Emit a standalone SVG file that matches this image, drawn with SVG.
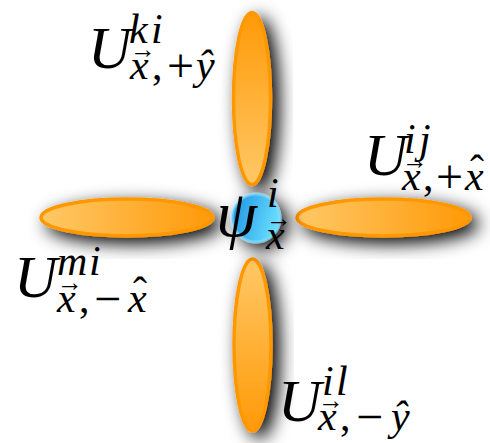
<svg xmlns="http://www.w3.org/2000/svg" width="490" height="443" viewBox="0 0 490 443">
<defs>
<style>
text{font-family:"Liberation Serif","DejaVu Serif",serif;font-style:italic;fill:#000}
.b{font-size:60px}
.s{font-size:42px}
.u{font-style:normal}
.ac{font-style:normal;font-size:26px}
.op{font-style:normal;font-size:48px}
.lobe{stroke:#FF9800;stroke-width:3.5}
</style>
<filter id="sh" x="-60%" y="-60%" width="220%" height="220%">
<feGaussianBlur in="SourceAlpha" stdDeviation="9"/>
<feOffset dx="7" dy="6"/>
<feComponentTransfer><feFuncA type="linear" slope="1"/></feComponentTransfer>
<feMerge><feMergeNode/><feMergeNode in="SourceGraphic"/></feMerge>
</filter>
<linearGradient id="gh" x1="0" y1="0" x2="1" y2="0">
<stop offset="0" stop-color="#FFC866"/><stop offset="1" stop-color="#FF9A08"/>
</linearGradient>
<linearGradient id="gt" x1="0" y1="0" x2="0" y2="1">
<stop offset="0" stop-color="#FF9A08"/><stop offset="1" stop-color="#FFC866"/>
</linearGradient>
<linearGradient id="gb" x1="0" y1="0" x2="0" y2="1">
<stop offset="0" stop-color="#FFC866"/><stop offset="1" stop-color="#FF9A08"/>
</linearGradient>
<linearGradient id="gc" x1="0" y1="0" x2="1" y2="0.3">
<stop offset="0" stop-color="#1A8FE0"/><stop offset="1" stop-color="#66DCFF"/>
</linearGradient>
</defs>
<rect width="490" height="443" fill="#fff"/>
<g id="connectors"/>
<g id="lobe-top"><ellipse class="lobe" cx="252" cy="98.5" rx="18.5" ry="86" fill="url(#gt)" filter="url(#sh)"/></g>
<g id="lobe-bottom"><ellipse class="lobe" cx="252.5" cy="345" rx="18.5" ry="86" fill="url(#gb)" filter="url(#sh)"/></g>
<g id="lobe-left"><ellipse class="lobe" cx="127" cy="217.5" rx="86" ry="18.5" fill="url(#gh)" filter="url(#sh)"/></g>
<g id="lobe-right"><ellipse class="lobe" cx="383.5" cy="217.5" rx="86.5" ry="18.5" fill="url(#gh)" filter="url(#sh)"/></g>
<g id="site"><circle cx="256" cy="218" r="24" fill="url(#gc)" stroke="#8EE0FF" stroke-opacity="0.6" stroke-width="3" filter="url(#sh)"/></g>

<g id="label-top">
<text><tspan class="b" x="88" y="68">U</tspan><tspan class="s" x="129" y="43">k</tspan><tspan class="s" x="151" y="43">i</tspan><tspan class="s" x="130" y="79">x</tspan><tspan class="ac" x="130" y="58">→</tspan><tspan class="s u" x="152" y="79">,</tspan><tspan class="op" x="167" y="82">+</tspan><tspan class="s" x="196" y="79">ŷ</tspan></text>
</g>

<g id="label-right">
<text><tspan class="b" x="364" y="175">U</tspan><tspan class="s" x="404" y="153">i</tspan><tspan class="s" x="419" y="153">j</tspan><tspan class="s" x="402" y="190">x</tspan><tspan class="ac" x="402" y="169">→</tspan><tspan class="s u" x="423" y="190">,</tspan><tspan class="op" x="436" y="193">+</tspan><tspan class="s" x="465" y="190">x</tspan><tspan class="s u" x="470" y="184">ˆ</tspan></text>
</g>

<g id="label-left">
<text><tspan class="b" x="14" y="297">U</tspan><tspan class="s" x="57" y="275">m</tspan><tspan class="s" x="89" y="275">i</tspan><tspan class="s" x="57" y="312">x</tspan><tspan class="ac" x="57" y="291">→</tspan><tspan class="s u" x="79" y="312">,</tspan><tspan class="op" x="94" y="315">−</tspan><tspan class="s" x="128" y="312">x</tspan><tspan class="s u" x="133" y="306">ˆ</tspan></text>
</g>

<g id="label-bottom">
<text><tspan class="b" x="278" y="421">U</tspan><tspan class="s" x="322" y="395">i</tspan><tspan class="s" x="336" y="395">l</tspan><tspan class="s" x="318" y="430">x</tspan><tspan class="ac" x="318" y="409">→</tspan><tspan class="s u" x="340" y="430">,</tspan><tspan class="op" x="356" y="433">−</tspan><tspan class="s" x="391" y="430">ŷ</tspan></text>
</g>

<g id="label-psi">
<text><tspan x="216" y="236" font-size="66">ψ</tspan><tspan class="s" x="267" y="207">i</tspan><tspan class="s" x="266" y="249">x</tspan><tspan class="ac" x="266" y="227">→</tspan></text>
</g>
</svg>
